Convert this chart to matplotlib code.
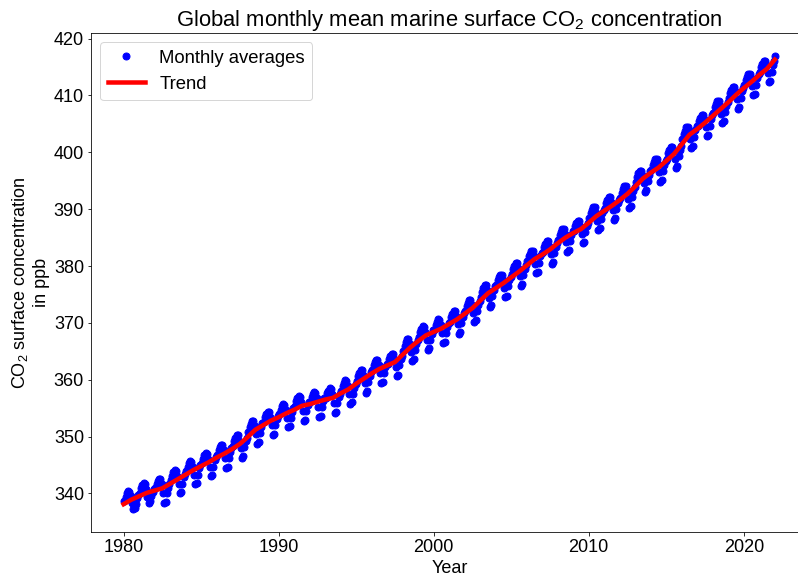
import numpy as np
import matplotlib
matplotlib.use("Agg")
import matplotlib.pyplot as plt

plt.rcParams['font.family'] = ['Liberation Sans', 'DejaVu Sans']
plt.rcParams['mathtext.fontset'] = 'custom'
plt.rcParams['mathtext.rm'] = 'Liberation Sans'
plt.rcParams['mathtext.it'] = 'Liberation Sans:italic'
plt.rcParams['font.size'] = 18

# Monthly means (ppm), Jan..Dec for each year
co2_1980s = [
    338.7, 339.4, 340.0, 340.4, 340.3, 339.5, 338.3, 337.2, 337.4, 338.2, 339.2, 339.8,
    340.1, 340.9, 341.4, 341.8, 341.7, 340.8, 339.4, 338.3, 338.6, 339.5, 340.3, 340.8,
    340.9, 341.7, 342.2, 342.6, 342.5, 341.6, 340.0, 338.3, 338.5, 340.0, 341.0, 341.6,
    342.3, 343.1, 343.7, 344.1, 344.0, 343.1, 341.7, 340.0, 340.2, 341.7, 342.8, 343.4,
    343.9, 344.7, 345.3, 345.7, 345.6, 344.7, 343.3, 341.6, 341.8, 343.3, 344.4, 345.0,
    345.3, 346.1, 346.7, 347.1, 347.0, 346.1, 344.7, 343.0, 343.2, 344.7, 345.8, 346.4,
    346.8, 347.6, 348.2, 348.6, 348.5, 347.6, 346.2, 344.5, 344.7, 346.2, 347.3, 347.9,
    348.3, 349.2, 349.7, 350.2, 350.2, 349.3, 347.9, 346.2, 346.5, 348.1, 349.2, 349.8,
    350.8, 351.7, 352.2, 352.7, 352.7, 351.8, 350.4, 348.7, 349.0, 350.6, 351.7, 352.3,
    352.6, 353.4, 354.0, 354.4, 354.3, 353.4, 352.0, 350.3, 350.5, 352.0, 353.1, 353.7,
]
co2_1990s = [
    353.9, 354.7, 355.3, 355.7, 355.6, 354.7, 353.3, 351.6, 351.8, 353.3, 354.4, 355.0,
    355.4, 356.2, 356.7, 357.1, 357.0, 356.1, 354.5, 352.8, 353.0, 354.5, 355.5, 356.1,
    356.1, 356.9, 357.4, 357.8, 357.7, 356.8, 355.2, 353.5, 353.7, 355.2, 356.2, 356.8,
    356.8, 357.6, 358.1, 358.5, 358.4, 357.5, 355.9, 354.2, 354.4, 355.9, 356.9, 357.5,
    358.1, 358.9, 359.5, 359.9, 359.8, 358.9, 357.5, 355.8, 356.0, 357.5, 358.6, 359.2,
    359.8, 360.7, 361.2, 361.7, 361.7, 360.8, 359.4, 357.7, 358.0, 359.6, 360.7, 361.3,
    361.7, 362.5, 363.1, 363.5, 363.4, 362.5, 361.1, 359.4, 359.6, 361.1, 362.2, 362.8,
    362.7, 363.6, 364.1, 364.6, 364.6, 363.7, 362.3, 360.6, 360.9, 362.5, 363.6, 364.2,
    365.1, 366.0, 366.6, 367.1, 367.1, 366.3, 364.9, 363.3, 363.6, 365.2, 366.3, 367.0,
    367.6, 368.4, 369.0, 369.4, 369.3, 368.4, 367.0, 365.3, 365.5, 367.0, 368.1, 368.7,
]
co2_2000s = [
    368.8, 369.6, 370.2, 370.6, 370.5, 369.6, 368.2, 366.5, 366.7, 368.2, 369.3, 369.9,
    370.2, 371.1, 371.6, 372.1, 372.1, 371.2, 369.8, 368.1, 368.4, 370.0, 371.1, 371.7,
    372.0, 372.9, 373.5, 374.0, 374.0, 373.2, 371.8, 370.2, 370.5, 372.1, 373.2, 373.9,
    374.6, 375.5, 376.1, 376.6, 376.6, 375.8, 374.4, 372.8, 373.1, 374.7, 375.8, 376.5,
    376.6, 377.5, 378.0, 378.5, 378.5, 377.6, 376.2, 374.5, 374.8, 376.4, 377.5, 378.1,
    378.6, 379.5, 380.0, 380.5, 380.5, 379.6, 378.2, 376.5, 376.8, 378.4, 379.5, 380.1,
    380.8, 381.7, 382.2, 382.7, 382.7, 381.8, 380.4, 378.7, 379.0, 380.6, 381.7, 382.3,
    382.5, 383.4, 383.9, 384.4, 384.4, 383.5, 382.1, 380.4, 380.7, 382.3, 383.4, 384.0,
    384.6, 385.5, 386.0, 386.5, 386.5, 385.6, 384.2, 382.5, 382.8, 384.4, 385.5, 386.1,
    386.1, 387.0, 387.5, 388.0, 388.0, 387.1, 385.7, 384.0, 384.3, 385.9, 387.0, 387.6,
]
co2_2010s = [
    388.4, 389.3, 389.8, 390.3, 390.3, 389.4, 388.0, 386.3, 386.6, 388.2, 389.3, 389.9,
    390.2, 391.1, 391.6, 392.1, 392.1, 391.2, 389.8, 388.1, 388.4, 390.0, 391.1, 391.7,
    392.0, 392.9, 393.5, 394.0, 394.0, 393.2, 391.8, 390.2, 390.5, 392.1, 393.2, 393.9,
    394.8, 395.7, 396.3, 396.8, 396.8, 396.0, 394.6, 393.0, 393.3, 394.9, 396.0, 396.7,
    396.9, 397.8, 398.3, 398.8, 398.8, 397.9, 396.5, 394.8, 395.1, 396.7, 397.8, 398.4,
    398.9, 399.8, 400.4, 401.0, 401.0, 400.2, 398.8, 397.3, 397.6, 399.3, 400.4, 401.1,
    402.3, 403.2, 403.8, 404.4, 404.4, 403.7, 402.3, 400.7, 401.1, 402.7, 403.9, 404.6,
    404.6, 405.5, 406.1, 406.6, 406.6, 405.8, 404.4, 402.8, 403.1, 404.7, 405.8, 406.5,
    407.0, 407.9, 408.5, 409.0, 409.0, 408.2, 406.8, 405.2, 405.5, 407.1, 408.2, 408.9,
    409.5, 410.4, 411.0, 411.5, 411.5, 410.7, 409.3, 407.7, 408.0, 409.6, 410.7, 411.4,
]
co2_2020s = [
    411.8, 412.7, 413.3, 413.8, 413.8, 413.0, 411.6, 410.0, 410.3, 411.9, 413.0, 413.7,
    414.1, 415.0, 415.6, 416.1, 416.1, 415.3, 413.9, 412.3, 412.6, 414.2, 415.3, 416.0,
    417.0,
]

# Deseasonalised trend (ppm), every half year from 1980.0 to 2022.0
trend_ppm = [
    338.1, 338.9, 339.5, 340.1, 340.5, 340.9, 341.7, 342.5, 343.3, 344.1,
    344.8, 345.5, 346.3, 347.0, 347.8, 348.7, 349.9, 351.2, 352.0, 352.8,
    353.4, 354.1, 354.7, 355.4, 355.7, 356.1, 356.5, 356.8, 357.6, 358.3,
    359.3, 360.2, 361.1, 361.9, 362.5, 363.1, 364.4, 365.7, 366.8, 367.8,
    368.4, 369.0, 369.8, 370.6, 371.6, 372.6, 373.9, 375.2, 376.1, 377.0,
    378.0, 379.0, 380.1, 381.2, 382.0, 382.9, 384.0, 385.0, 385.8, 386.5,
    387.6, 388.8, 389.7, 390.6, 391.6, 392.7, 394.0, 395.4, 396.4, 397.3,
    398.5, 399.7, 401.4, 403.1, 404.1, 405.2, 406.4, 407.6, 408.8, 410.1,
    411.3, 412.4, 413.6, 414.7, 416.3,
]

monthly = np.array(co2_1980s + co2_1990s + co2_2000s + co2_2010s + co2_2020s)
t_month = 1980 + (np.arange(len(monthly)) + 0.5) / 12
t_trend = 1980 + 0.5 * np.arange(len(trend_ppm))

fig = plt.figure(figsize=(798 / 72, 579 / 72), dpi=72)
ax = fig.add_axes([91 / 798, 47 / 579, 717 / 798, 499 / 579])

ax.plot(t_month, monthly, 'o', color='blue', markersize=7, label='Monthly averages')
ax.plot(t_trend, trend_ppm, '-', color='red', linewidth=4.5, label='Trend')

ax.set_title('Global monthly mean marine surface CO$_2$ concentration', fontsize=22)
ax.set_xlabel('Year')
ax.set_ylabel('CO$_2$ surface concentration\nin ppb')
ax.legend(loc='upper left', fontsize=18.5)

fig.savefig('out.png', dpi=72)
